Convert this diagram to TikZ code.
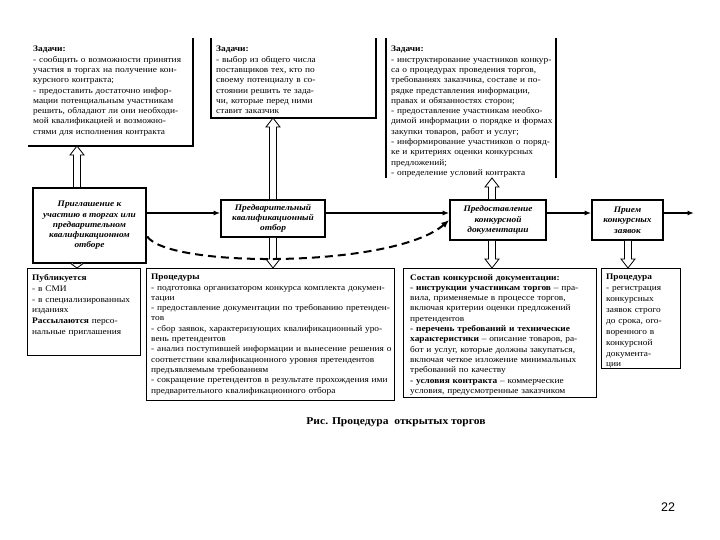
\documentclass[tikz,border=0pt]{standalone}
\usepackage{fontspec}
\setmainfont{Liberation Serif}[FakeStretch=1.1]
\newfontfamily\pagenumfont{Liberation Sans}
\usetikzlibrary{arrows.meta,calc}
\newcommand\J[1]{\makebox[\linewidth][s]{#1}}
\newcommand\fs{\fontsize{8.5}{10.3}\selectfont}
\newcommand\fsb{\fontsize{8.5}{10.9}\selectfont}
\newcommand\hollowarrow[3]{%
  \draw[hollow] let \p1=#1, \p2=#2, \n1={sign(\y2-\y1)} in
    (\x1-3.5,\y1) -- (\x1-3.5,\y2-\n1*#3) -- (\x1-7,\y2-\n1*#3) -- (\x1,\y2)
    -- (\x1+7,\y2-\n1*#3) -- (\x1+3.5,\y2-\n1*#3) -- (\x1+3.5,\y1);}
\begin{document}
\begin{tikzpicture}[x=1pt,y=-1pt,
  frame/.style={anchor=north west, inner sep=0pt, outer sep=0pt},
  bframe/.style={frame, draw, line width=0.8pt},
  txt/.style={anchor=north west, inner sep=0pt, align=left, font=\fs},
  btxt/.style={anchor=north west, inner sep=0pt, align=left, font=\fsb},
  edge/.style={line width=1.2pt},
  mbox/.style={draw, line width=1.6pt, align=center, inner sep=2pt, font=\fs\bfseries\itshape},
  arr/.style={line width=1.3pt, -{Latex[length=6.5pt,width=5pt]}},
  dasharr/.style={line width=2pt, dash pattern=on 8pt off 5pt, -{Latex[length=8pt,width=6.5pt]}},
  hollow/.style={draw=black, fill=white, line width=0.8pt}]
\useasboundingbox (0,0) rectangle (720,540);

% ---------- top boxes ----------
\node[frame, minimum width=165, minimum height=108] (b1) at (28,38) {};
\node[frame, minimum width=165, minimum height=80] (b2) at (211,38) {};
\node[frame, minimum width=170, minimum height=140] (b3) at (386,38) {};
\draw[edge] (b1.north east) -- (b1.south east) -- (b1.south west);
\draw[edge] (b2.north west) -- (b2.south west) -- (b2.south east) -- (b2.north east);
\draw[edge] (b3.south west) -- (b3.north west);
\draw[edge] (b3.north east) -- (b3.south east);

\node[txt, text width=155pt] (t1) at (33,46) {%
\textbf{Задачи:}\\
\J{- сообщить о возможности принятия}\\
\J{участия в торгах на получение кон-}\\
курсного контракта;\\
\J{- предоставить достаточно инфор-}\\
\J{мации потенциальным участникам}\\
\J{решить, обладают ли они необходи-}\\
\J{мой квалификацией и возможно-}\\
стями для исполнения контракта};

\node[txt, text width=155pt] (t2) at (216,46) {%
\textbf{Задачи:}\\
\J{- выбор из общего числа}\\
\J{поставщиков тех, кто по}\\
\J{своему потенциалу в со-}\\
\J{стоянии решить те зада-}\\
\J{чи, которые перед ними}\\
ставит заказчик};

\node[txt, text width=160pt] (t3) at (391,46) {%
\textbf{Задачи:}\\
\J{- инструктирование участников конкур-}\\
\J{са о процедурах проведения торгов,}\\
\J{требованиях заказчика, составе и по-}\\
\J{рядке представления информации,}\\
правах и обязанностях сторон;\\
\J{- предоставление участникам необхо-}\\
\J{димой информации о порядке и формах}\\
закупки товаров, работ и услуг;\\
\J{- информирование участников о поряд-}\\
ке и критериях оценки конкурсных\\
предложений;\\
- определение условий контракта};

% ---------- middle row ----------
\node[mbox, line width=2.4pt, minimum width=113, minimum height=75] (inv) at (89.5,225.5)
  {Приглашение к\\участию в торгах или\\предварительном\\квалификационном\\отборе};
\node[mbox, minimum width=104, minimum height=37] (pre) at (273,218.5)
  {Предварительный\\квалификационный\\отбор};
\node[mbox, minimum width=96, minimum height=40] (doc) at (498,220)
  {Предоставление\\конкурсной\\документации};
\node[mbox, minimum width=71, minimum height=40] (rec) at (627.5,220)
  {Прием\\конкурсных\\заявок};

\coordinate (row) at (0,213);
\coordinate (out) at (694,213);
\draw[arr] (inv.east |- row) -- (pre.west |- row);
\draw[arr] (pre.east |- row) -- (doc.west |- row);
\draw[arr] (doc.east |- row) -- (rec.west |- row);
\draw[arr] (rec.east |- row) -- (out);

% ---------- bottom boxes ----------
\node[bframe, minimum width=113, minimum height=87] (pf) at (27,268) {};
\node[bframe, minimum width=248, minimum height=132] (proc) at (146,268) {};
\node[bframe, minimum width=193, minimum height=129] (comp) at (403,268) {};
\node[bframe, minimum width=79, minimum height=100] (last) at (601,268) {};

\node[btxt, text width=104pt] (pt) at (32,274) {%
\textbf{Публикуется}\\
- в СМИ\\
\J{- в специализированных}\\
изданиях\\
\J{\textbf{Рассылаются} персо-}\\
нальные приглашения};

\node[txt, text width=238pt] (proct) at (151,274) {%
\textbf{Процедуры}\\
\J{- подготовка организатором конкурса комплекта докумен-}\\
тации\\
\J{- предоставление документации по требованию претенден-}\\
тов\\
\J{- сбор заявок, характеризующих квалификационный уро-}\\
вень претендентов\\
\J{- анализ поступившей информации и вынесение решения о}\\
соответствии квалификационного уровня претендентов\\
предъявляемым требованиям\\
\J{- сокращение претендентов в результате прохождения ими}\\
предварительного квалификационного отбора};

\node[txt, text width=180pt] (compt) at (410,274) {%
\textbf{Состав конкурсной документации:}\\
\J{\textbf{- инструкции участникам торгов} – пра-}\\
\J{вила, применяемые в процессе торгов,}\\
\J{включая критерии оценки предложений}\\
претендентов\\
\J{\textbf{- перечень требований и технические}}\\
\J{\textbf{характеристики} – описание товаров, ра-}\\
\J{бот и услуг, которые должны закупаться,}\\
\J{включая четкое изложение минимальных}\\
требований по качеству\\
\J{\textbf{- условия контракта} – коммерческие}\\
условия, предусмотренные заказчиком};

\node[btxt, text width=70pt] (lastt) at (606,274) {%
\textbf{Процедура}\\
\J{- регистрация}\\
конкурсных\\
\J{заявок строго}\\
\J{до срока, ого-}\\
воренного в\\
конкурсной\\
документа-\\
ции};

% ---------- hollow block arrows ----------
\coordinate (ax1) at (77,0);
\coordinate (ax2) at (273,0);
\coordinate (ax3) at (492,0);
\coordinate (ax4) at (628,0);
\hollowarrow{(ax1 |- inv.north)}{(ax1 |- b1.south)}{9}
\hollowarrow{(ax2 |- pre.north)}{(ax2 |- b2.south)}{9}
\hollowarrow{(ax3 |- doc.north)}{(ax3 |- b3.south)}{9}
\hollowarrow{(ax1 |- inv.south)}{(ax1 |- pf.north)}{5}
\hollowarrow{(ax2 |- pre.south)}{(ax2 |- proc.north)}{9}
\hollowarrow{(ax3 |- doc.south)}{(ax3 |- comp.north)}{9}
\hollowarrow{(ax4 |- rec.south)}{(ax4 |- last.north)}{9}

% ---------- dashed connector ----------
\draw[dasharr] ([yshift=-11]inv.east) .. controls +(22,32) and +(-55,48) .. (doc.west);

% ---------- caption and page number ----------
\node[font=\fontsize{10.5}{12}\selectfont\bfseries] (cap) at (396,422) {Рис. Процедура\ \ открытых торгов};
\node[font=\pagenumfont\fontsize{12.5}{14}\selectfont] (pnum) at (668,507) {22};
\end{tikzpicture}
\end{document}
